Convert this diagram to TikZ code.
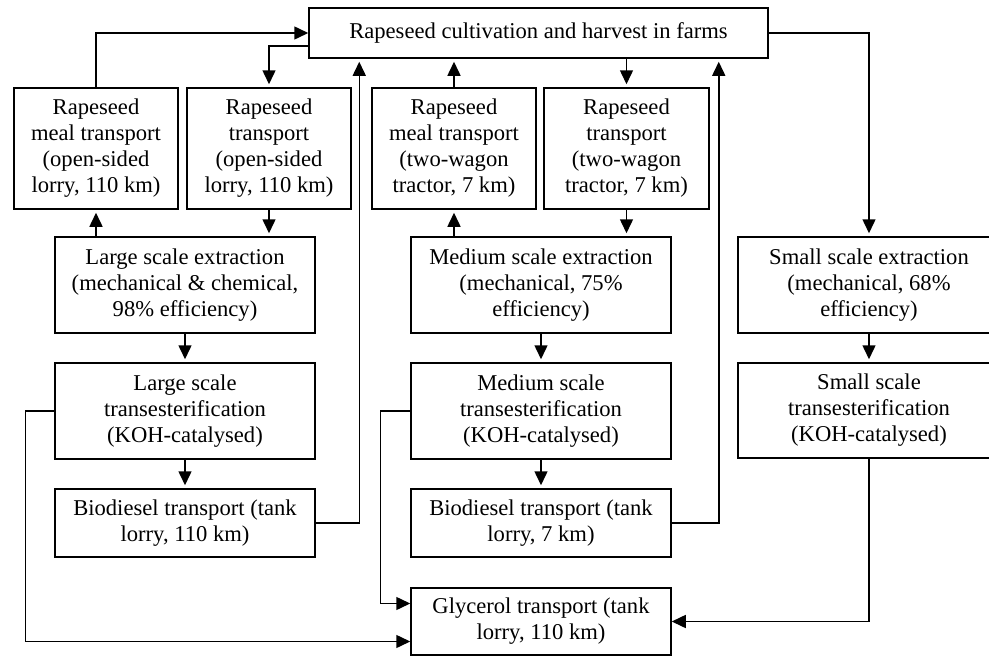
\documentclass[tikz,border=0pt]{standalone}
\usepackage{fontspec}
\setmainfont{Liberation Serif}
\usetikzlibrary{arrows.meta}

\begin{document}
\begin{tikzpicture}[x=1pt,y=-1pt,
  box/.style={draw,line width=1.5pt,align=center,inner sep=0pt,
    font=\fontsize{22.6}{26}\selectfont},
  arr/.style={line width=1.5pt,-{Triangle[length=14pt,width=13pt]},shorten >=3pt}]

\useasboundingbox (0,0) rectangle (989,656);

\node [box,minimum width=459pt,minimum height=50pt] (farm) at (538.5,33) {Rapeseed cultivation and harvest in farms};

\node [box,minimum width=164pt,minimum height=121pt] (mealL) at (96,148.5) {Rapeseed\\meal transport\\(open-sided\\lorry, 110 km)};
\node [box,minimum width=164pt,minimum height=121pt] (seedL) at (269,148.5) {Rapeseed\\transport\\(open-sided\\lorry, 110 km)};
\node [box,minimum width=164pt,minimum height=121pt] (mealM) at (454,148.5) {Rapeseed\\meal transport\\(two-wagon\\tractor, 7 km)};
\node [box,minimum width=165pt,minimum height=121pt] (seedM) at (626.5,148.5) {Rapeseed\\transport\\(two-wagon\\tractor, 7 km)};

\node [box,minimum width=260pt,minimum height=96pt] (extL) at (185,285) {Large scale extraction\\(mechanical \& chemical,\\98\% efficiency)};
\node [box,minimum width=260pt,minimum height=96pt] (transL) at (185,411) {Large scale\\transesterification\\(KOH-catalysed)};
\node [box,minimum width=260pt,minimum height=68pt] (bioL) at (185,523) {Biodiesel transport (tank\\lorry, 110 km)};

\node [box,minimum width=260pt,minimum height=96pt] (extM) at (541,285) {Medium scale extraction\\(mechanical, 75\%\\efficiency)};
\node [box,minimum width=260pt,minimum height=96pt] (transM) at (541,411) {Medium scale\\transesterification\\(KOH-catalysed)};
\node [box,minimum width=260pt,minimum height=68pt] (bioM) at (541,523) {Biodiesel transport (tank\\lorry, 7 km)};

\node [box,minimum width=262pt,minimum height=96pt] (extS) at (869,285) {Small scale extraction\\(mechanical, 68\%\\efficiency)};
\node [box,minimum width=262pt,minimum height=95pt] (transS) at (869,410.5) {Small scale\\transesterification\\(KOH-catalysed)};

\node [box,minimum width=260pt,minimum height=67pt] (glyc) at (541,621.5) {Glycerol transport (tank\\lorry, 110 km)};

% farm and transport boxes
\draw [arr,shorten >=0pt] (mealL.north) |- (farm.west);
\draw [arr] ([yshift=-13pt]farm.west) -| (seedL.north);
\draw [arr] (mealM.north) -- (mealM.north |- farm.south);
\draw [arr] (farm.south -| seedM.north) -- (seedM.north);
\draw [arr] (farm.east) -| (extS.north);

% large scale
\draw [arr] (mealL.south |- extL.north) -- (mealL.south);
\draw [arr] (seedL.south) -- (seedL.south |- extL.north);
\draw [arr] (extL) -- (transL);
\draw [arr] (transL) -- (bioL);
\draw [arr] (bioL.east) -| ([xshift=51pt]farm.south west);

% medium scale
\draw [arr] (mealM.south |- extM.north) -- (mealM.south);
\draw [arr] (seedM.south) -- (seedM.south |- extM.north);
\draw [arr] (extM) -- (transM);
\draw [arr] (transM) -- (bioM);
\draw [arr] (bioM.east) -| ([xshift=-50pt]farm.south east);

% small scale
\draw [arr] (extS) -- (transS);

% glycerol
\draw [arr,shorten >=0pt] (transL.west) -- ++(-29,0) |- ([yshift=-20pt]glyc.west);
\draw [arr,shorten >=0pt] (transM.west) -- ++(-30,0) |- ([yshift=18pt]glyc.west);
\draw [arr,shorten >=0pt] (transS.south) |- (glyc.east);
\end{tikzpicture}
\end{document}
